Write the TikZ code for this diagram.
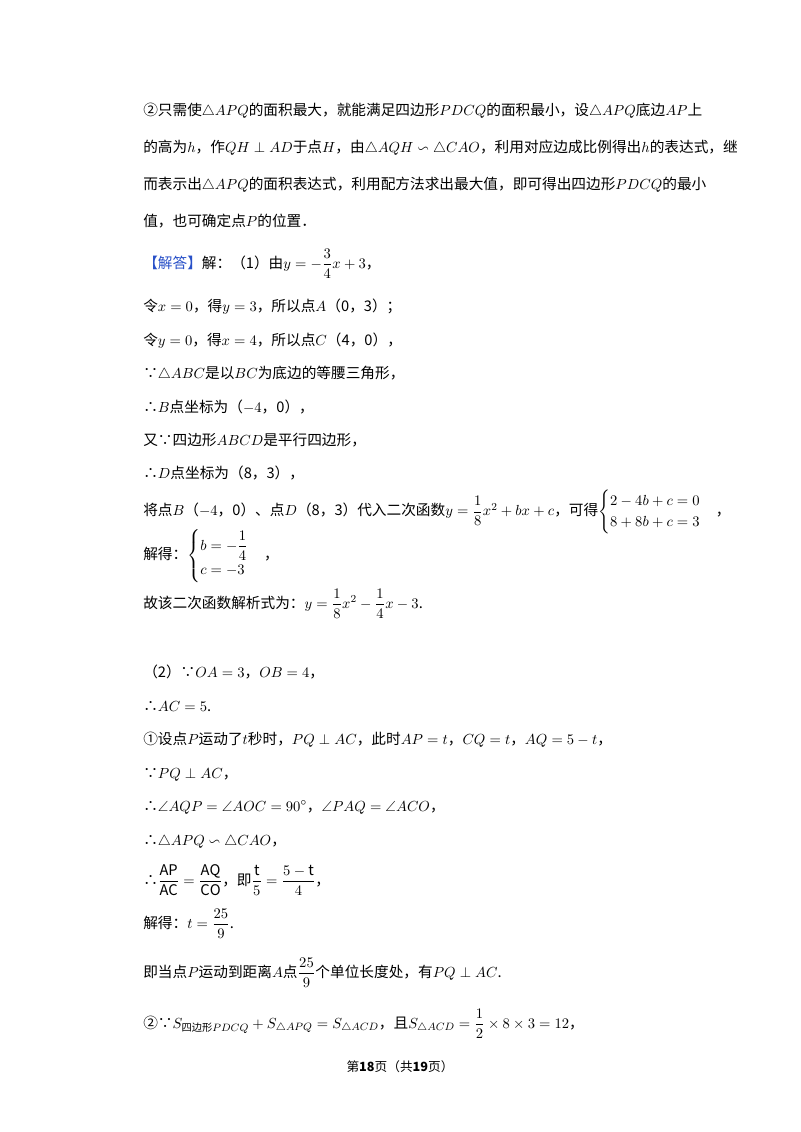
\documentclass[tikz,border=0pt]{standalone}
\usepackage{amsmath,amssymb}
\usepackage{fontspec}
\setmainfont{Noto Sans CJK SC}
\begin{document}
\begin{tikzpicture}[x=0.75pt,y=-0.75pt,
  ln/.style={anchor=base west,inner sep=0pt,font=\fontsize{11}{13}\selectfont},
  lc/.style={anchor=west,inner sep=0pt,font=\fontsize{11}{13}\selectfont}]
\useasboundingbox (0,0) rectangle (800,1132);
\fill[white] (0,0) rectangle (800,1132);
\node[ln] (l1) at (143,115) {②只需使$\triangle APQ$的面积最大，就能满足四边形$PDCQ$的面积最小，设$\triangle APQ$底边$AP$上};
\node[ln] (l2) at (143,152) {的高为$h$，作$QH\perp AD$于点$H$，由$\triangle AQH\backsim\triangle CAO$，利用对应边成比例得出$h$的表达式，继};
\node[ln] (l3) at (143,189) {而表示出$\triangle APQ$的面积表达式，利用配方法求出最大值，即可得出四边形$PDCQ$的最小};
\node[ln] (l4) at (143,226) {值，也可确定点$P$的位置．};
\node[ln] (l5) at (143,268) {\textcolor[RGB]{40,80,200}{【解答】}解：（1）由$y=-\dfrac{3}{4}x+3$，};
\node[ln] (l6) at (143,311) {令$x=0$，得$y=3$，所以点$A$（0，3）；};
\node[ln] (l7) at (143,345) {令$y=0$，得$x=4$，所以点$C$（4，0），};
\node[ln] (l8) at (143,378) {∵$\triangle ABC$是以$BC$为底边的等腰三角形，};
\node[ln] (l9) at (143,412) {∴$B$点坐标为（$-4$，0），};
\node[ln] (l10) at (143,445) {又∵四边形$ABCD$是平行四边形，};
\node[ln] (l11) at (143,478) {∴$D$点坐标为（8，3），};
\node[lc] (l12) at (143,512) {将点$B$（$-4$，0）、点$D$（8，3）代入二次函数$y=\dfrac{1}{8}x^2+bx+c$，可得{\renewcommand{\arraystretch}{0.95}$\begin{cases}2-4b+c=0\\8+8b+c=3\end{cases}$}，};
\node[lc] (l13) at (143,556) {解得：{\renewcommand{\arraystretch}{1.0}$\begin{cases}b=-\dfrac{1}{4}\\ c=-3\end{cases}$}，};
\node[ln] (l14) at (143,608) {故该二次函数解析式为：$y=\dfrac{1}{8}x^2-\dfrac{1}{4}x-3$.};
\node[ln] (l15) at (143,677) {（2）∵$OA=3$，$OB=4$，};
\node[ln] (l16) at (143,711) {∴$AC=5$.};
\node[ln] (l17) at (143,744) {①设点$P$运动了$t$秒时，$PQ\perp AC$，此时$AP=t$，$CQ=t$，$AQ=5-t$，};
\node[ln] (l18) at (143,778) {∵$PQ\perp AC$，};
\node[ln] (l19) at (143,811) {∴$\angle AQP=\angle AOC=90^\circ$，$\angle PAQ=\angle ACO$，};
\node[ln] (l20) at (143,845) {∴$\triangle APQ\backsim\triangle CAO$，};
\node[ln] (l21) at (143,885) {∴$\dfrac{\mathrm{AP}}{\mathrm{AC}}=\dfrac{\mathrm{AQ}}{\mathrm{CO}}$，即$\dfrac{\mathrm{t}}{5}=\dfrac{5-\mathrm{t}}{4}$，};
\node[ln] (l22) at (143,928) {解得：$t=\dfrac{25}{9}$.};
\node[ln] (l23) at (143,977) {即当点$P$运动到距离$A$点$\dfrac{25}{9}$个单位长度处，有$PQ\perp AC$.};
\node[ln] (l24) at (143,1028) {②∵$S_{\text{四边形}PDCQ}+S_{\triangle APQ}=S_{\triangle ACD}$，且$S_{\triangle ACD}=\dfrac{1}{2}\times8\times3=12$，};
\node[anchor=base,inner sep=0pt,font=\fontsize{9.5}{11}\selectfont] (ft) at (400,1071) {第\textbf{18}页（共\textbf{19}页）};
\end{tikzpicture}
\end{document}
